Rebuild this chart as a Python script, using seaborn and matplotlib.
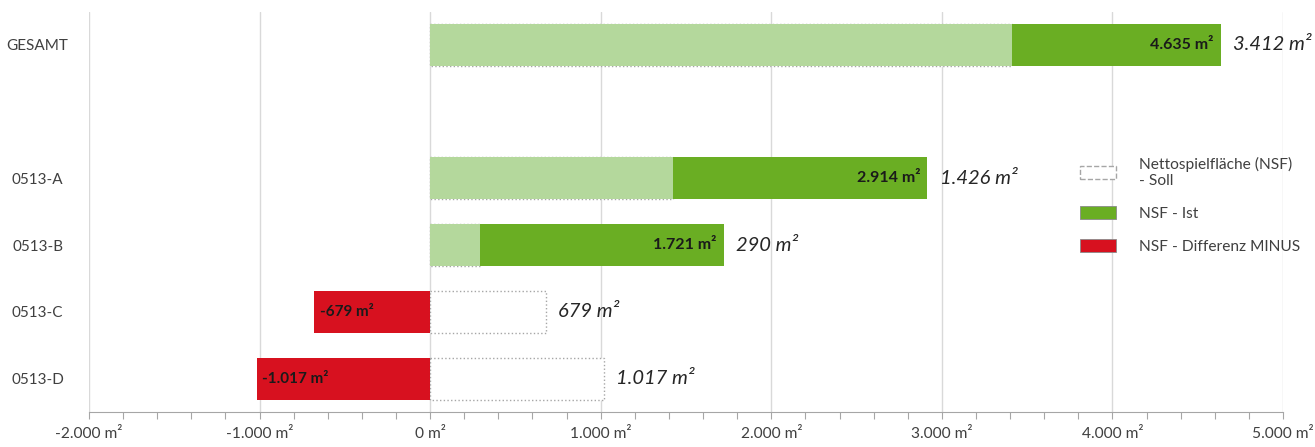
import numpy as np
import pandas as pd
import matplotlib
matplotlib.use("Agg")
import matplotlib.pyplot as plt
import seaborn as sns
from matplotlib.patches import Patch

# Data
categories = ["GESAMT", "", "0513-A", "0513-B", "0513-C", "0513-D"]
soll = [3412, np.nan, 1426, 290, 679, 1017]
ist = [4635, np.nan, 2914, 1721, 0, 0]
diff_minus = [0, np.nan, 0, 0, -679, -1017]
x_ticks = [-2000, -1000, 0, 1000, 2000, 3000, 4000, 5000]

LIGHT_GREEN = "#b4d89c"
GREEN = "#6aae23"
RED = "#d7111f"
TEXT = "#404040"
GRID = "#d9d9d9"


def de_num(v):
    return f"{v:,.0f}".replace(",", ".")


df = pd.DataFrame({"cat": categories, "soll": soll, "ist": ist, "diff": diff_minus})
df["overlap"] = np.minimum(df["soll"], df["ist"])

sns.set_style("white")
plt.rcParams["font.family"] = ["Lato", "DejaVu Sans"]

fig = plt.figure(figsize=(13.15, 4.47), dpi=100)
ax = fig.add_axes([89 / 1315, 1 - 412 / 447, (1283 - 89) / 1315, (412 - 11.5) / 447])

w = 0.63
# Soll box (white, dotted outline)
sns.barplot(data=df, x="soll", y="cat", order=categories, orient="h", width=w,
            color="white", edgecolor="#a6a6a6", linewidth=1.0, linestyle=":",
            saturation=1, ax=ax, zorder=2)
# Ist
sns.barplot(data=df, x="ist", y="cat", order=categories, orient="h", width=w,
            color=GREEN, saturation=1, ax=ax, zorder=3, linewidth=0)
# overlap of Ist and Soll
sns.barplot(data=df, x="overlap", y="cat", order=categories, orient="h", width=w,
            color=LIGHT_GREEN, saturation=1, ax=ax, zorder=4, linewidth=0)
# Differenz minus
sns.barplot(data=df, x="diff", y="cat", order=categories, orient="h", width=w,
            color=RED, saturation=1, ax=ax, zorder=3, linewidth=0)

ax.set_xlim(x_ticks[0], x_ticks[-1])
ax.set_ylim(len(categories) - 0.5, -0.5)
ax.set_xticks(x_ticks)
ax.set_xticklabels([f"{de_num(v)} m²" for v in x_ticks], fontsize=11.2, color=TEXT)
ax.set_xticks(np.arange(x_ticks[0], x_ticks[-1] + 1, 200), minor=True)
ax.tick_params(axis="x", which="both", direction="out", length=5, width=0.8,
               color="#a6a6a6", bottom=True, pad=6)
ax.set_xlabel("")
ax.set_ylabel("")
ax.tick_params(axis="y", length=0, pad=37)
for lab in ax.get_yticklabels():
    lab.set_ha("center")
    lab.set_fontsize(11)
    lab.set_color(TEXT)

ax.grid(axis="x", which="major", color=GRID, linewidth=1.0, zorder=0)
ax.set_axisbelow(True)
for s in ["left", "right", "top"]:
    ax.spines[s].set_visible(False)
ax.spines["bottom"].set_color("#a6a6a6")
ax.spines["bottom"].set_linewidth(0.8)

# Labels
for i, row in df.iterrows():
    if row["cat"] == "":
        continue
    if row["ist"] > 0:
        ax.annotate(f"{de_num(row['ist'])} m²", (row["ist"], i), xytext=(-5, 0),
                    textcoords="offset points", ha="right", va="center",
                    fontsize=11.5, fontweight="bold", color="#1a1a1a", zorder=6)
    if row["diff"] < 0:
        ax.annotate(f"{de_num(row['diff'])} m²", (row["diff"], i), xytext=(4, 0),
                    textcoords="offset points", ha="left", va="center",
                    fontsize=11, fontweight="bold", color="#1a1a1a", zorder=6)
    end = max(row["ist"], row["soll"])
    ax.annotate(f"{de_num(row['soll'])} m²", (end, i), xytext=(9, 0),
                textcoords="offset points", ha="left", va="center",
                fontsize=14.5, fontstyle="italic", color="#262626",
                annotation_clip=False, zorder=6)

handles = [
    Patch(facecolor="white", edgecolor="#a6a6a6", linestyle="--", linewidth=1.0,
          label="Nettospielfläche (NSF)\n- Soll"),
    Patch(facecolor=GREEN, edgecolor="#8a8a8a", linewidth=0.6, label="NSF - Ist"),
    Patch(facecolor=RED, edgecolor="#8a8a8a", linewidth=0.6, label="NSF - Differenz MINUS"),
]
leg = fig.legend(handles=handles, loc="upper left",
                 bbox_to_anchor=(1066 / 1315, 1 - 143 / 447), frameon=False,
                 fontsize=11.2, handlelength=2.3, handleheight=0.9,
                 handletextpad=1.5, labelspacing=1.15, labelcolor=TEXT)

fig.savefig("out.png", dpi=100)
